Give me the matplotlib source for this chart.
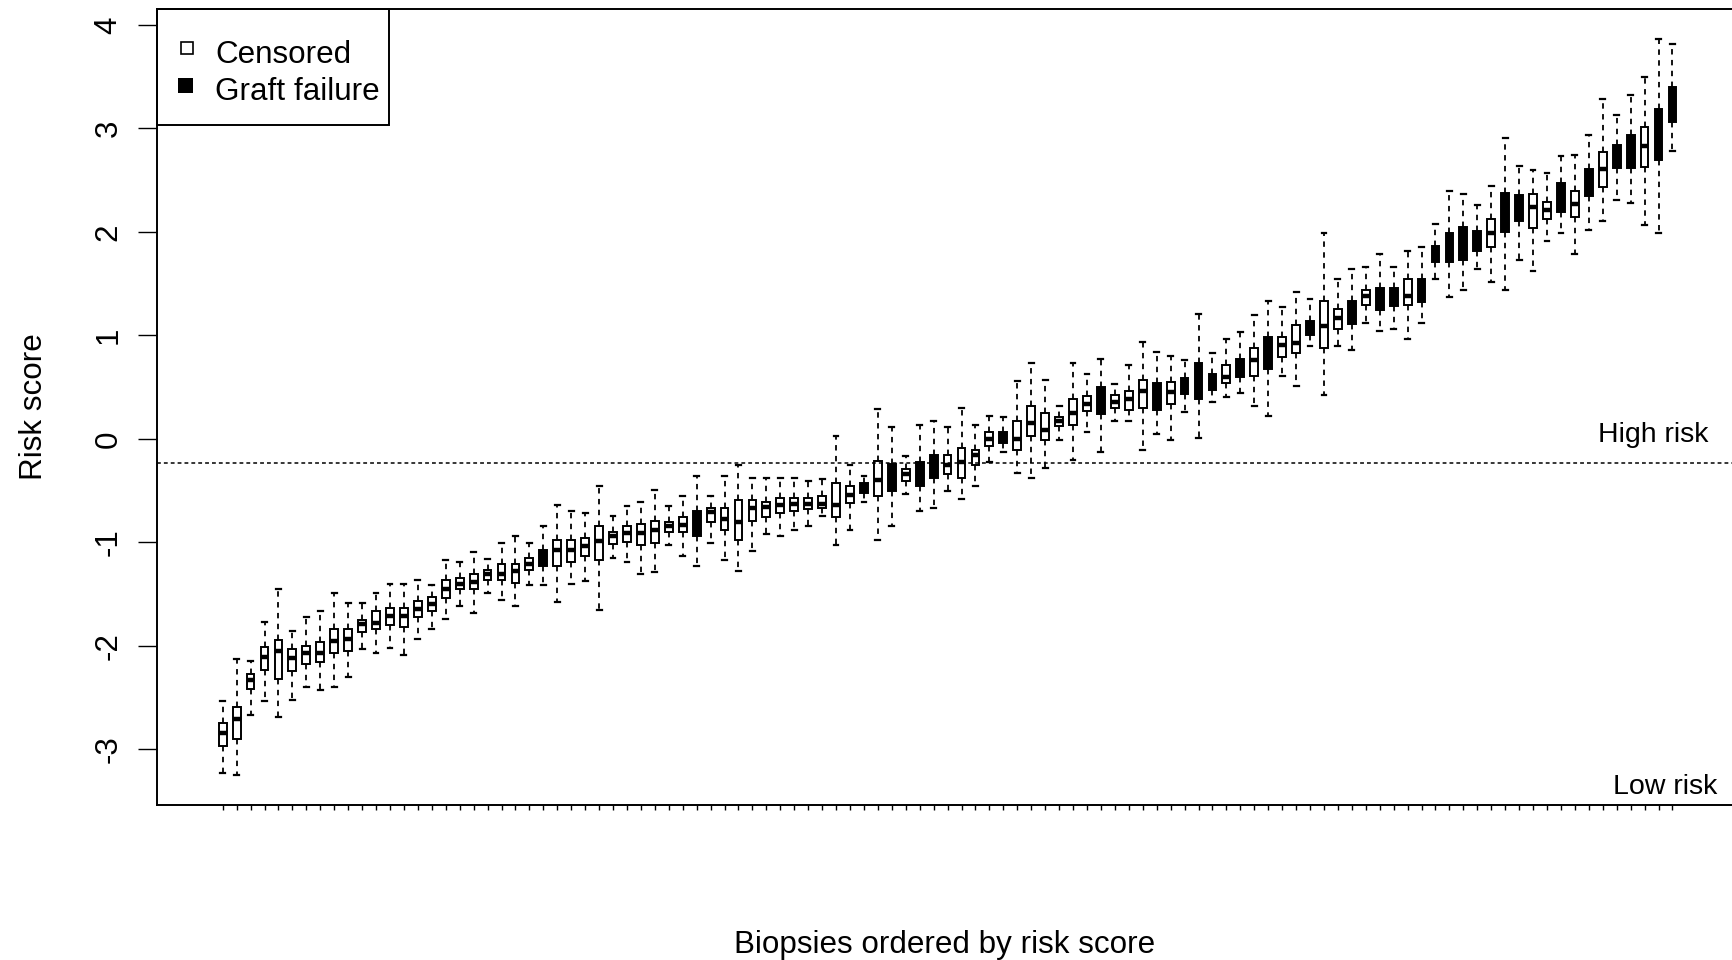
import matplotlib.pyplot as plt
import numpy as np
from matplotlib.lines import Line2D
from matplotlib.patches import Rectangle
from matplotlib.transforms import blended_transform_factory

# box statistics per biopsy, ordered by risk score
whishi = [-2.53, -2.13, -2.15, -1.77, -1.45, -1.86, -1.72, -1.66, -1.49, -1.59,
          -1.59, -1.49, -1.40, -1.40, -1.36, -1.41, -1.17, -1.19, -1.09, -1.16,
          -1.01, -0.94, -1.01, -0.84, -0.64, -0.70, -0.72, -0.46, -0.75, -0.65,
          -0.61, -0.49, -0.65, -0.55, -0.36, -0.55, -0.36, -0.25, -0.38, -0.38,
          -0.38, -0.38, -0.41, -0.39, 0.03, -0.25, -0.36, 0.29, 0.11, -0.17,
          0.13, 0.17, 0.11, 0.30, 0.13, 0.22, 0.21, 0.56, 0.73, 0.57,
          0.32, 0.73, 0.63, 0.77, 0.53, 0.71, 0.94, 0.84, 0.80, 0.76,
          1.21, 0.83, 0.96, 1.03, 1.20, 1.33, 1.27, 1.42, 1.35, 1.99,
          1.54, 1.64, 1.66, 1.79, 1.66, 1.81, 1.85, 2.08, 2.39, 2.37,
          2.26, 2.44, 2.91, 2.64, 2.60, 2.57, 2.73, 2.74, 2.94, 3.28,
          3.13, 3.32, 3.50, 3.86, 3.81]
q3 = [-2.75, -2.59, -2.27, -2.01, -1.94, -2.03, -2.00, -1.96, -1.84, -1.84,
      -1.75, -1.66, -1.63, -1.63, -1.57, -1.53, -1.36, -1.34, -1.31, -1.27,
      -1.21, -1.21, -1.15, -1.07, -0.98, -0.98, -0.96, -0.84, -0.90, -0.84,
      -0.82, -0.79, -0.80, -0.76, -0.70, -0.67, -0.67, -0.59, -0.59, -0.61,
      -0.57, -0.57, -0.57, -0.55, -0.43, -0.46, -0.43, -0.21, -0.24, -0.29,
      -0.22, -0.16, -0.16, -0.09, -0.11, 0.07, 0.07, 0.17, 0.32, 0.25,
      0.21, 0.38, 0.41, 0.50, 0.42, 0.46, 0.57, 0.54, 0.55, 0.59,
      0.73, 0.63, 0.71, 0.77, 0.88, 0.98, 0.98, 1.10, 1.14, 1.33,
      1.25, 1.33, 1.44, 1.46, 1.46, 1.54, 1.54, 1.86, 1.99, 2.05,
      2.01, 2.12, 2.38, 2.36, 2.37, 2.29, 2.47, 2.39, 2.61, 2.77,
      2.84, 2.94, 3.01, 3.19, 3.40]
med = [-2.84, -2.71, -2.33, -2.11, -2.05, -2.12, -2.07, -2.07, -1.95, -1.93,
       -1.79, -1.78, -1.71, -1.71, -1.64, -1.60, -1.45, -1.40, -1.38, -1.31,
       -1.31, -1.28, -1.21, -1.16, -1.07, -1.07, -1.04, -0.99, -0.94, -0.91,
       -0.91, -0.88, -0.84, -0.83, -0.82, -0.71, -0.77, -0.80, -0.67, -0.66,
       -0.64, -0.63, -0.63, -0.63, -0.64, -0.54, -0.47, -0.40, -0.37, -0.34,
       -0.33, -0.27, -0.25, -0.22, -0.16, 0.00, 0.01, 0.00, 0.15, 0.09,
       0.17, 0.25, 0.34, 0.37, 0.36, 0.38, 0.46, 0.41, 0.45, 0.51,
       0.57, 0.55, 0.60, 0.69, 0.76, 0.83, 0.91, 0.93, 1.07, 1.09,
       1.17, 1.22, 1.38, 1.36, 1.37, 1.38, 1.44, 1.78, 1.86, 1.89,
       1.90, 1.99, 2.19, 2.22, 2.24, 2.21, 2.33, 2.27, 2.48, 2.61,
       2.73, 2.78, 2.83, 2.95, 3.23]
q1 = [-2.97, -2.90, -2.42, -2.23, -2.32, -2.24, -2.18, -2.16, -2.07, -2.05,
      -1.87, -1.84, -1.80, -1.82, -1.72, -1.66, -1.54, -1.45, -1.45, -1.36,
      -1.36, -1.39, -1.27, -1.23, -1.23, -1.19, -1.13, -1.17, -1.02, -1.00,
      -1.03, -1.01, -0.90, -0.90, -0.94, -0.80, -0.88, -0.98, -0.79, -0.76,
      -0.72, -0.70, -0.68, -0.67, -0.76, -0.62, -0.52, -0.55, -0.50, -0.41,
      -0.46, -0.38, -0.34, -0.38, -0.25, -0.07, -0.04, -0.11, 0.03, -0.01,
      0.12, 0.13, 0.27, 0.24, 0.30, 0.28, 0.30, 0.28, 0.34, 0.43,
      0.38, 0.47, 0.54, 0.60, 0.61, 0.67, 0.79, 0.83, 1.00, 0.88,
      1.06, 1.11, 1.29, 1.24, 1.28, 1.29, 1.32, 1.71, 1.71, 1.73,
      1.81, 1.85, 2.00, 2.10, 2.04, 2.12, 2.19, 2.14, 2.35, 2.43,
      2.62, 2.62, 2.63, 2.69, 3.06]
whislo = [-3.23, -3.25, -2.67, -2.53, -2.69, -2.52, -2.40, -2.43, -2.40, -2.30,
          -2.03, -2.07, -2.02, -2.09, -1.93, -1.84, -1.74, -1.62, -1.68, -1.49,
          -1.56, -1.62, -1.41, -1.41, -1.58, -1.40, -1.37, -1.65, -1.15, -1.19,
          -1.31, -1.29, -1.03, -1.13, -1.23, -1.01, -1.17, -1.28, -1.08, -0.92,
          -0.94, -0.88, -0.84, -0.75, -1.03, -0.88, -0.61, -0.98, -0.84, -0.53,
          -0.70, -0.67, -0.50, -0.58, -0.46, -0.22, -0.13, -0.33, -0.38, -0.28,
          -0.01, -0.20, 0.07, -0.13, 0.17, 0.17, -0.11, 0.05, -0.01, 0.26,
          0.01, 0.36, 0.40, 0.44, 0.32, 0.22, 0.61, 0.51, 0.90, 0.42,
          0.90, 0.86, 1.12, 1.04, 1.06, 0.96, 1.12, 1.54, 1.37, 1.44,
          1.64, 1.52, 1.44, 1.73, 1.62, 1.91, 1.99, 1.79, 2.02, 2.10,
          2.31, 2.28, 2.07, 1.99, 2.78]
# 1 = graft failure, 0 = censored
failure = [0, 0, 0, 0, 0, 0, 0, 0, 0, 0, 0, 0, 0, 0, 0, 0, 0, 0, 0, 0,
           0, 0, 0, 1, 0, 0, 0, 0, 0, 0, 0, 0, 0, 0, 1, 0, 0, 0, 0, 0,
           0, 0, 0, 0, 0, 0, 1, 0, 1, 0, 1, 1, 0, 0, 0, 0, 1, 0, 0, 0,
           0, 0, 0, 1, 0, 0, 0, 1, 0, 1, 1, 1, 0, 1, 0, 1, 0, 0, 1, 0,
           0, 1, 0, 1, 1, 0, 1, 1, 1, 1, 1, 0, 1, 1, 0, 0, 1, 0, 1, 0,
           1, 1, 0, 1, 1]
cutoff = -0.234
yticks = [-3, -2, -1, 0, 1, 2, 3, 4]

W, H = 1733, 960
def fx(p): return p / W          # pixel -> figure fraction
def fy(p): return 1 - p / H

plt.rcParams['font.family'] = ['Liberation Sans', 'DejaVu Sans']
fig = plt.figure(figsize=(W / 100, H / 100), dpi=100)
ax = fig.add_axes([fx(157), fy(805), (1740 - 157) / W, (805 - 9) / H])

n = len(med)
pos = np.arange(1, n + 1)
stats = [dict(med=med[i], q1=q1[i], q3=q3[i], whislo=whislo[i], whishi=whishi[i], fliers=[])
         for i in range(n)]
art = ax.bxp(stats, positions=pos, widths=0.56, capwidths=0.35, patch_artist=True,
             showfliers=False,
             boxprops=dict(edgecolor='black', linewidth=1.4),
             whiskerprops=dict(color='black', linewidth=1.3, linestyle=(0, (3, 3))),
             capprops=dict(color='black', linewidth=1.6),
             medianprops=dict(color='black', linewidth=3.2, solid_capstyle='butt'))
for b, f in zip(art['boxes'], failure):
    b.set_facecolor('black' if f else 'white')

ax.axhline(cutoff, color='black', linewidth=1.1, linestyle=(0, (2.5, 2)))

# axis ranges (box spacing 13.94 px, first box at 222.7 px)
ax.set_xlim(1 + (157 - 222.7) / 13.94, 1 + (1740 - 222.7) / 13.94)
ax.set_ylim(-3.538, 4.153)

ax.set_yticks(yticks)
ax.set_yticklabels([])
ax.tick_params(axis='y', length=13.7, width=1.0, direction='out')
ax.set_xticks(pos)
ax.set_xticklabels([])
ax.tick_params(axis='x', length=3.8, width=1.0, direction='out')
for s in ax.spines.values():
    s.set_linewidth(1.4)

# y tick labels, parallel to axis
tr = blended_transform_factory(fig.transFigure, ax.transData)
for v in yticks:
    ax.text(fx(116.7), v, str(v), transform=tr, rotation=90, rotation_mode='anchor',
            ha='center', va='baseline', fontsize=22.6, clip_on=False)

fig.text(fx(41.7), fy(407), 'Risk score', rotation=90, rotation_mode='anchor',
         ha='center', va='baseline', fontsize=22.6)
fig.text(fx(945), fy(953.3), 'Biopsies ordered by risk score', ha='center',
         va='baseline', fontsize=22.6)

ax.text(fx(1598.3), fy(441.7), 'High risk', transform=fig.transFigure,
        ha='left', va='baseline', fontsize=20.5)
ax.text(fx(1613.3), fy(794.3), 'Low risk', transform=fig.transFigure,
        ha='left', va='baseline', fontsize=20.5)

# legend
fig.add_artist(Rectangle((fx(157), fy(125)), (389 - 157) / W, (125 - 9) / H,
                         transform=fig.transFigure, fill=False, edgecolor='black', linewidth=1.4))
fig.add_artist(Line2D([fx(186.7)], [fy(47.5)], marker='s', markersize=8.4,
                      markerfacecolor='white', markeredgecolor='black', markeredgewidth=1.2,
                      transform=fig.transFigure))
fig.add_artist(Line2D([fx(185)], [fy(85.3)], marker='s', markersize=10.8,
                      markerfacecolor='black', markeredgewidth=0, transform=fig.transFigure))
fig.text(fx(215), fy(62.7), 'Censored', ha='left', va='baseline', fontsize=22.6)
fig.text(fx(215), fy(100), 'Graft failure', ha='left', va='baseline', fontsize=22.6)

fig.savefig('out.png', dpi=100)
